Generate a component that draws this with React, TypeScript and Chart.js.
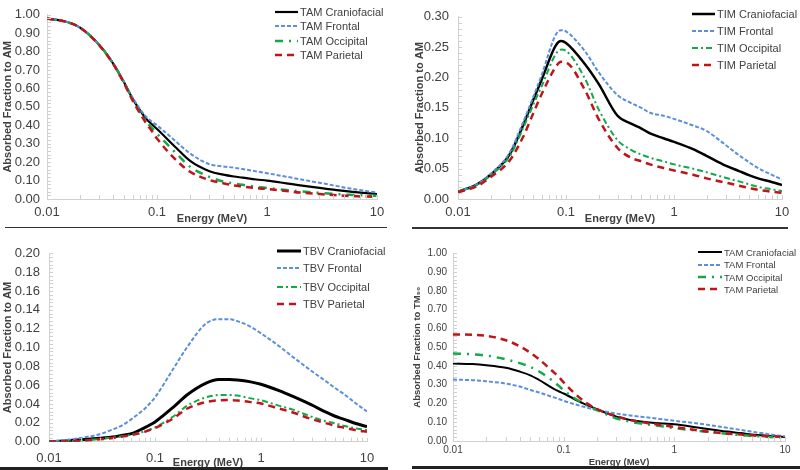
import React, { useEffect, useRef } from "react";
import { Chart, registerables } from "chart.js";

Chart.register(...registerables);

// ---------- data ----------
const energies = [0.01, 0.015, 0.02, 0.03, 0.04, 0.05, 0.06, 0.08, 0.09, 0.1, 0.15, 0.2, 0.3, 0.4, 0.5, 0.6, 0.8, 1, 1.5, 2, 3, 4, 5, 6, 8, 10];
const xTickValues = [0.01, 0.1, 1, 10];
const xTickLabels = ["0.01", "0.1", "1", "10"];
const regions = ["Craniofacial", "Frontal", "Occipital", "Parietal"];

// Panel A: TAM, absorbed fraction to AM
const tamCranio = [0.98, 0.962, 0.93, 0.835, 0.735, 0.635, 0.545, 0.435, 0.405, 0.38, 0.277, 0.207, 0.151, 0.132, 0.122, 0.116, 0.106, 0.1, 0.085, 0.074, 0.06, 0.051, 0.044, 0.039, 0.032, 0.027];
const tamFrontal = [0.98, 0.962, 0.93, 0.835, 0.737, 0.638, 0.55, 0.445, 0.42, 0.4, 0.31, 0.247, 0.189, 0.177, 0.17, 0.163, 0.15, 0.14, 0.121, 0.107, 0.088, 0.074, 0.063, 0.055, 0.043, 0.035];
const tamOccipital = [0.98, 0.962, 0.93, 0.835, 0.735, 0.633, 0.54, 0.42, 0.385, 0.355, 0.247, 0.175, 0.12, 0.095, 0.084, 0.077, 0.066, 0.06, 0.049, 0.042, 0.033, 0.028, 0.024, 0.022, 0.019, 0.017];
const tamParietal = [0.98, 0.962, 0.93, 0.833, 0.732, 0.63, 0.535, 0.41, 0.368, 0.328, 0.21, 0.148, 0.103, 0.085, 0.074, 0.068, 0.059, 0.054, 0.043, 0.035, 0.027, 0.022, 0.018, 0.016, 0.013, 0.011];

// Panel B: TIM, absorbed fraction to AM
const timCranio = [0.012, 0.024, 0.04, 0.073, 0.121, 0.164, 0.198, 0.252, 0.26, 0.257, 0.222, 0.19, 0.137, 0.124, 0.116, 0.108, 0.1, 0.094, 0.082, 0.071, 0.055, 0.046, 0.039, 0.034, 0.028, 0.023];
const timFrontal = [0.012, 0.024, 0.041, 0.076, 0.126, 0.169, 0.206, 0.27, 0.278, 0.276, 0.243, 0.209, 0.171, 0.158, 0.15, 0.142, 0.137, 0.132, 0.121, 0.112, 0.089, 0.072, 0.06, 0.051, 0.04, 0.032];
const timOccipital = [0.012, 0.023, 0.039, 0.07, 0.116, 0.156, 0.187, 0.238, 0.246, 0.244, 0.198, 0.148, 0.097, 0.081, 0.073, 0.068, 0.062, 0.057, 0.05, 0.044, 0.035, 0.029, 0.024, 0.02, 0.016, 0.013];
const timParietal = [0.011, 0.021, 0.036, 0.063, 0.102, 0.142, 0.174, 0.217, 0.226, 0.225, 0.179, 0.132, 0.084, 0.068, 0.062, 0.057, 0.051, 0.047, 0.04, 0.034, 0.027, 0.022, 0.018, 0.015, 0.012, 0.01];

// Panel C: TBV, absorbed fraction to AM
const tbvCranio = [0.0, 0.001, 0.002, 0.0036, 0.005, 0.007, 0.0085, 0.015, 0.018, 0.021, 0.037, 0.0496, 0.062, 0.066, 0.066, 0.0655, 0.0635, 0.061, 0.054, 0.048, 0.039, 0.032, 0.027, 0.024, 0.019, 0.016];
const tbvFrontal = [0.0, 0.002, 0.004, 0.008, 0.013, 0.018, 0.024, 0.035, 0.041, 0.047, 0.078, 0.1, 0.125, 0.13, 0.13, 0.128, 0.122, 0.115, 0.101, 0.09, 0.075, 0.065, 0.057, 0.051, 0.04, 0.032];
const tbvOccipital = [0.0, 0.0005, 0.001, 0.003, 0.0045, 0.006, 0.0075, 0.011, 0.013, 0.015, 0.027, 0.038, 0.047, 0.0495, 0.0496, 0.049, 0.046, 0.044, 0.038, 0.034, 0.0265, 0.022, 0.0195, 0.017, 0.014, 0.0124];
const tbvParietal = [0.0, 0.0005, 0.001, 0.0025, 0.004, 0.0055, 0.007, 0.0105, 0.0125, 0.0145, 0.025, 0.035, 0.042, 0.044, 0.0442, 0.0438, 0.042, 0.0405, 0.035, 0.031, 0.024, 0.02, 0.017, 0.015, 0.012, 0.0106];

// Panel D: TAM, absorbed fraction to TM50
const tm50Cranio = [0.413, 0.41, 0.404, 0.39, 0.37, 0.35, 0.325, 0.28, 0.265, 0.253, 0.2, 0.169, 0.13, 0.112, 0.104, 0.099, 0.093, 0.089, 0.075, 0.064, 0.05, 0.042, 0.035, 0.031, 0.025, 0.021];
const tm50Frontal = [0.327, 0.324, 0.318, 0.306, 0.29, 0.272, 0.258, 0.234, 0.224, 0.214, 0.183, 0.165, 0.146, 0.136, 0.129, 0.124, 0.115, 0.108, 0.096, 0.086, 0.07, 0.059, 0.05, 0.043, 0.032, 0.025];
const tm50Occipital = [0.466, 0.462, 0.455, 0.435, 0.415, 0.395, 0.37, 0.32, 0.295, 0.27, 0.2, 0.165, 0.12, 0.103, 0.093, 0.087, 0.077, 0.069, 0.057, 0.049, 0.038, 0.031, 0.027, 0.024, 0.02, 0.018];
const tm50Parietal = [0.568, 0.566, 0.56, 0.537, 0.505, 0.47, 0.435, 0.37, 0.343, 0.312, 0.215, 0.17, 0.132, 0.112, 0.101, 0.094, 0.083, 0.075, 0.06, 0.05, 0.04, 0.034, 0.03, 0.027, 0.024, 0.021];

// ---------- styling ----------
const FONT = "'Liberation Sans', Arial, Helvetica, sans-serif";
const TEXT = "#404040";
const AXIS = "#d0d0d0";
const BLACK = "#000000";
const BLUE = "#5b8fd9";
const GREEN = "#14a84b";
const RED = "#c0141b";

type Style = { color: string; dash: number[]; width: number };

type Panel = {
  prefix: string;
  series: number[][];
  styles: Style[];
  yMax: number;
  yStep: number;
  yMinor: number;
  yTitle: string;
  left: number;
  top: number;
  pad: { left: number; top: number; right: number; bottom: number };
  yWidth: number;
  xHeight: number;
  yTickPad: number;
  xTickPad: number;
  yTitlePad: number;
  tickSize: number;
  titleSize: number;
  legend: { x: number; ys: number[]; lineW: number; size: number };
};

const panels: Panel[] = [
  {
    prefix: "TAM",
    series: [tamCranio, tamFrontal, tamOccipital, tamParietal],
    styles: [
      { color: BLACK, dash: [], width: 2.2 },
      { color: BLUE, dash: [4, 2], width: 2 },
      { color: GREEN, dash: [8, 6, 2, 6], width: 2.5 },
      { color: RED, dash: [7, 5], width: 2.5 },
    ],
    yMax: 1, yStep: 0.1, yMinor: 0.02, yTitle: "Absorbed Fraction to AM",
    left: 0, top: 0,
    pad: { left: 0, top: 14, right: 23, bottom: 9.4 },
    yWidth: 47, xHeight: 26.6, yTickPad: 7, xTickPad: 6, yTitlePad: 1.4,
    tickSize: 13, titleSize: 11,
    legend: { x: 275, ys: [12, 26, 41, 55], lineW: 23, size: 11 },
  },
  {
    prefix: "TIM",
    series: [timCranio, timFrontal, timOccipital, timParietal],
    styles: [
      { color: BLACK, dash: [], width: 2.5 },
      { color: BLUE, dash: [4, 2], width: 2 },
      { color: GREEN, dash: [6, 3, 2, 3], width: 2 },
      { color: RED, dash: [7, 5], width: 2.5 },
    ],
    yMax: 0.3, yStep: 0.05, yMinor: 0.01, yTitle: "Absorbed Fraction to AM",
    left: 400, top: 0,
    pad: { left: 0, top: 11, right: 18, bottom: 9.4 },
    yWidth: 58, xHeight: 26.6, yTickPad: 9, xTickPad: 6, yTitlePad: 13.4,
    tickSize: 13, titleSize: 11,
    legend: { x: 692, ys: [14, 31, 48, 65], lineW: 23, size: 11 },
  },
  {
    prefix: "TBV",
    series: [tbvCranio, tbvFrontal, tbvOccipital, tbvParietal],
    styles: [
      { color: BLACK, dash: [], width: 3 },
      { color: BLUE, dash: [4, 2], width: 2 },
      { color: GREEN, dash: [6, 3, 2, 3], width: 2 },
      { color: RED, dash: [7, 5], width: 2.5 },
    ],
    yMax: 0.2, yStep: 0.02, yMinor: 0.004, yTitle: "Absorbed Fraction to AM",
    left: 0, top: 235,
    pad: { left: 0, top: 18.3, right: 33, bottom: 0.7 },
    yWidth: 49, xHeight: 27.6, yTickPad: 9, xTickPad: 8.5, yTitlePad: 1.4,
    tickSize: 13, titleSize: 11,
    legend: { x: 277, ys: [251, 268, 286.5, 304], lineW: 24, size: 11 },
  },
  {
    prefix: "TAM",
    series: [tm50Cranio, tm50Frontal, tm50Occipital, tm50Parietal],
    styles: [
      { color: BLACK, dash: [], width: 2 },
      { color: BLUE, dash: [4, 2], width: 2 },
      { color: GREEN, dash: [8, 6, 2, 6], width: 2.5 },
      { color: RED, dash: [7, 5], width: 2.5 },
    ],
    yMax: 1, yStep: 0.1, yMinor: 0.02, yTitle: "Absorbed Fraction to TM\u2085\u2080",
    left: 400, top: 235,
    pad: { left: 0, top: 18.3, right: 15, bottom: 2.3 },
    yWidth: 53, xHeight: 26.7, yTickPad: 6, xTickPad: 3, yTitlePad: 11.3,
    tickSize: 10, titleSize: 9.5,
    legend: { x: 698, ys: [252, 264.5, 277, 289], lineW: 24, size: 9.5 },
  },
];

const minorTicks = {
  id: "minorTicks",
  afterDatasetsDraw(chart: any, _args: any, opts: any) {
    const { ctx, chartArea } = chart;
    const x = chart.scales.x;
    const y = chart.scales.y;
    ctx.save();
    ctx.strokeStyle = AXIS;
    ctx.lineWidth = 1;
    ctx.beginPath();
    const n = Math.round(y.max / opts.step);
    for (let i = 1; i <= n; i++) {
      const py = Math.round(y.getPixelForValue(i * opts.step)) + 0.5;
      ctx.moveTo(chartArea.left, py);
      ctx.lineTo(chartArea.left + 4, py);
    }
    for (let d = -2; d < 1; d++) {
      for (let m = 2; m <= 10; m++) {
        const px = Math.round(x.getPixelForValue(m * Math.pow(10, d))) + 0.5;
        ctx.moveTo(px, chartArea.bottom);
        ctx.lineTo(px, chartArea.bottom - 4);
      }
    }
    ctx.stroke();
    ctx.restore();
  },
};

function PanelChart({ p }: { p: Panel }) {
  const ref = useRef<HTMLCanvasElement | null>(null);
  useEffect(() => {
    if (!ref.current) return;
    const chart = new Chart(ref.current, {
      type: "line",
      data: {
        datasets: p.series.map((vals, i) => ({
          label: `${p.prefix} ${regions[i]}`,
          data: energies.map((e, k) => ({ x: e, y: vals[k] })),
          borderColor: p.styles[i].color,
          borderDash: p.styles[i].dash,
          borderWidth: p.styles[i].width,
          pointRadius: 0,
          fill: false,
          cubicInterpolationMode: "monotone" as const,
          order: 4 - i,
        })),
      },
      options: {
        responsive: false,
        animation: false,
        devicePixelRatio: 1,
        layout: { padding: p.pad },
        plugins: {
          legend: { display: false },
          tooltip: { enabled: false },
          minorTicks: { step: p.yMinor },
        } as any,
        scales: {
          x: {
            type: "logarithmic",
            min: 0.01,
            max: 10,
            afterBuildTicks: (s: any) => {
              s.ticks = xTickValues.map((v) => ({ value: v }));
            },
            afterFit: (s: any) => {
              s.height = p.xHeight;
            },
            ticks: {
              autoSkip: false,
              maxRotation: 0,
              padding: p.xTickPad,
              color: TEXT,
              font: { family: FONT, size: p.tickSize },
              callback: (v: any) => {
                const idx = xTickValues.findIndex((t) => Math.abs(t - Number(v)) < 1e-9);
                return idx >= 0 ? xTickLabels[idx] : "";
              },
            },
            grid: { drawOnChartArea: false, drawTicks: false },
            border: { color: AXIS, width: 1 },
            title: {
              display: true,
              text: "Energy (MeV)",
              color: TEXT,
              font: { family: FONT, size: p.titleSize, weight: "bold" },
              padding: { top: 0, bottom: 0 },
            },
          },
          y: {
            type: "linear",
            min: 0,
            max: p.yMax,
            afterFit: (s: any) => {
              s.width = p.yWidth;
            },
            ticks: {
              stepSize: p.yStep,
              autoSkip: false,
              padding: p.yTickPad,
              color: TEXT,
              font: { family: FONT, size: p.tickSize },
              callback: (v: any) => Number(v).toFixed(2),
            },
            grid: { drawOnChartArea: false, drawTicks: false },
            border: { color: AXIS, width: 1 },
            title: {
              display: true,
              text: p.yTitle,
              color: TEXT,
              font: { family: FONT, size: p.titleSize, weight: "bold" },
              padding: { top: p.yTitlePad, bottom: 0 },
            },
          },
        },
      } as any,
      plugins: [minorTicks],
    });
    return () => chart.destroy();
  }, [p]);
  return (
    <canvas
      ref={ref}
      width={400}
      height={235}
      style={{ position: "absolute", left: p.left, top: p.top, width: 400, height: 235 }}
    />
  );
}

function Legend({ p }: { p: Panel }) {
  return (
    <>
      {regions.map((r, i) => {
        const st = p.styles[i];
        const y = p.legend.ys[i];
        return (
          <div
            key={r}
            style={{
              position: "absolute",
              left: p.legend.x,
              top: y - 8,
              height: 16,
              display: "flex",
              alignItems: "center",
              whiteSpace: "nowrap",
              fontFamily: FONT,
              fontSize: p.legend.size,
              color: TEXT,
            }}
          >
            <svg width={p.legend.lineW} height={6} style={{ display: "block", marginRight: 2 }}>
              <line
                x1={0}
                y1={3}
                x2={p.legend.lineW}
                y2={3}
                stroke={st.color}
                strokeWidth={st.width}
                strokeDasharray={st.dash.length ? st.dash.join(" ") : undefined}
              />
            </svg>
            <span>{`${p.prefix} ${r}`}</span>
          </div>
        );
      })}
    </>
  );
}

export default function App() {
  return (
    <div
      style={{
        position: "absolute",
        left: 0,
        top: 0,
        width: 800,
        height: 470,
        background: "#ffffff",
        overflow: "hidden",
      }}
    >
      {panels.map((p, i) => (
        <PanelChart key={i} p={p} />
      ))}
      {panels.map((p, i) => (
        <Legend key={"l" + i} p={p} />
      ))}
      <div style={{ position: "absolute", left: 5, top: 226.5, width: 382, height: 1.5, background: "#333" }} />
      <div style={{ position: "absolute", left: 412, top: 227, width: 376, height: 1.5, background: "#333" }} />
      <div style={{ position: "absolute", left: 0, top: 466.5, width: 388, height: 3, background: "#222" }} />
      <div style={{ position: "absolute", left: 412, top: 466, width: 388, height: 3, background: "#222" }} />
    </div>
  );
}
